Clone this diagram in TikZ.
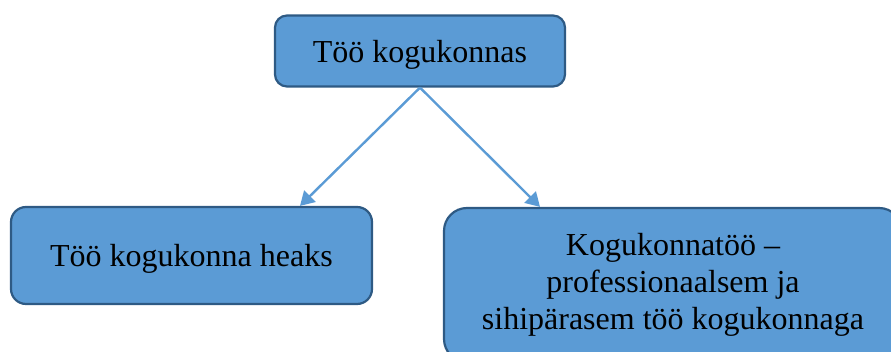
\documentclass[tikz,border=0pt]{standalone}
\usepackage{fontspec}
\setmainfont{Liberation Serif}
\usetikzlibrary{arrows.meta,calc}
\definecolor{boxfill}{HTML}{5B9BD5}
\definecolor{boxline}{HTML}{2E5A84}
\definecolor{arrowcol}{HTML}{5B9BD5}
\tikzset{
  box/.style={draw=boxline, fill=boxfill, line width=2.2pt, align=center,
    inner sep=0pt, font=\fontsize{32}{37}\selectfont},
  conn/.style={draw=arrowcol, line width=2.4pt,
    -{Triangle[length=14pt,width=16pt]}}
}
\begin{document}
\begin{tikzpicture}[x=1pt,y=1pt]
\path[use as bounding box, clip] (0,0) rectangle (891,352);
\node[box, rounded corners=12pt, minimum width=290pt, minimum height=71pt, text height=30pt, text depth=7pt] (top) at (420,301) {Töö kogukonnas};
\node[box, rounded corners=15pt, minimum width=361pt, minimum height=97pt, text height=30pt, text depth=7pt] (left) at (191.5,96.5) {Töö kogukonna heaks};
\node[box, rounded corners=23pt, minimum width=458pt, minimum height=154pt] (right) at (673,67) {Kogukonnatöö –\\professionaalsem ja\\sihipärasem töö kogukonnaga};
\draw[conn] (top.south) -- ([xshift=108.5pt]left.north);
\draw[conn] (top.south) -- ([xshift=-133pt]right.north);
\end{tikzpicture}
\end{document}
